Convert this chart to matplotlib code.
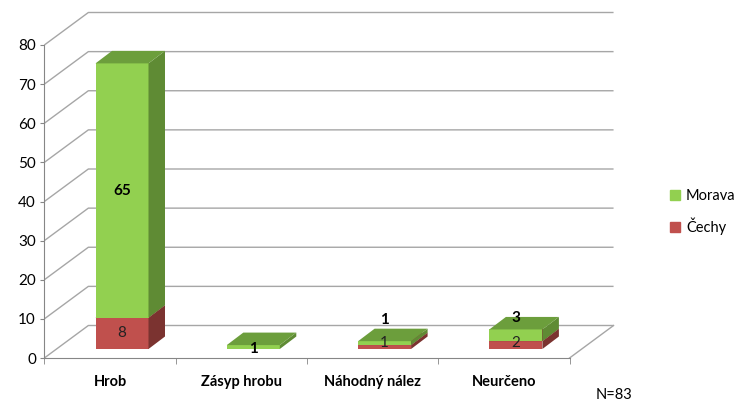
import matplotlib.pyplot as plt
from matplotlib.patches import Polygon, Patch

# Data
categories = ['Hrob', 'Zásyp hrobu', 'Náhodný nález', 'Neurčeno']
cechy = [8, 0, 1, 2]
morava = [65, 1, 1, 3]
y_ticks = list(range(0, 81, 10))
n_text = 'N=83'

plt.rcParams['font.family'] = ['Lato', 'DejaVu Sans']

fig = plt.figure(figsize=(7.39, 4.05), dpi=100)
ax = fig.add_axes([0, 0, 1, 1])

# pixel -> data unit conversion
px_x = 1 / 131.3
px_y = 1 / 3.9125
ax.set_xlim(-110 * px_x, (739 - 110) * px_x)
ax.set_ylim(-(405 - 358) * px_y, 358 * px_y)

# 3D look parameters
wall_dx, wall_dy = 44 * px_x, 32.5 * px_y
off_dx, off_dy = 12 * px_x, 9 * px_y
ddx, ddy = 16.5 * px_x, 12.5 * px_y
w = 53 * px_x

grid_c = '#a6a6a6'
for v in y_ticks:
    ax.plot([-0.5, -0.5 + wall_dx, 3.5 + wall_dx], [v, v + wall_dy, v + wall_dy],
            color=grid_c, lw=1, zorder=1, solid_capstyle='butt')
ax.plot([3.5, 3.5 + wall_dx], [0, wall_dy], color=grid_c, lw=1, zorder=1)

colors = {'Morava': ('#92d050', '#5f8b34', '#6c9e3c'),
          'Čechy': ('#c0504d', '#7b3330', '#8c3a37')}


def segment(xc, bottom, h, cols):
    front, side_c, top_c = cols
    x0 = xc + off_dx - w / 2
    x1 = x0 + w
    y0 = bottom + off_dy
    y1 = y0 + h
    ax.bar(xc + off_dx, h, width=w, bottom=y0, color=front, lw=0, zorder=3)
    ax.add_patch(Polygon([(x1, y0), (x1 + ddx, y0 + ddy), (x1 + ddx, y1 + ddy), (x1, y1)],
                         closed=True, color=side_c, lw=0, zorder=3))
    ax.add_patch(Polygon([(x0, y1), (x1, y1), (x1 + ddx, y1 + ddy), (x0 + ddx, y1 + ddy)],
                         closed=True, color=top_c, lw=0, zorder=3))


# label nudges (value units) to mimic Excel placement
cechy_shift = [0, 0, 1.0, 0.5]
morava_shift = [0, -0.5, 5.9, 4.5]

for i in range(len(categories)):
    if cechy[i] > 0:
        segment(i, 0, cechy[i], colors['Čechy'])
        ax.text(i + off_dx, off_dy + cechy[i] / 2 + cechy_shift[i], str(cechy[i]),
                ha='center', va='center', fontsize=11, color='#222222', zorder=5)
    if morava[i] > 0:
        segment(i, cechy[i], morava[i], colors['Morava'])
        ax.text(i + off_dx, off_dy + cechy[i] + morava[i] / 2 + morava_shift[i], str(morava[i]),
                ha='center', va='center', fontsize=11, fontweight='bold', color='black', zorder=5)

# axes
for s in ['top', 'right']:
    ax.spines[s].set_visible(False)
ax.spines['left'].set_position(('data', -0.5))
ax.spines['left'].set_bounds(0, 80)
ax.spines['bottom'].set_position(('data', 0))
ax.spines['bottom'].set_bounds(-0.5, 3.5)
for s in ['left', 'bottom']:
    ax.spines[s].set_color('#868686')
    ax.spines[s].set_zorder(2)

ax.set_yticks(y_ticks)
ax.set_yticklabels([str(v) for v in y_ticks])
ax.tick_params(axis='y', length=3, pad=3, color='#868686', labelsize=11)
ax.set_xticks(range(len(categories)))
ax.set_xticklabels(categories, fontweight='bold')
ax.set_xticks([-0.5, 0.5, 1.5, 2.5, 3.5], minor=True)
ax.tick_params(axis='x', which='major', length=0, pad=12, labelsize=10.5)
ax.tick_params(axis='x', which='minor', length=4, color='#868686')
ax.patch.set_visible(False)

legend_handles = [Patch(color=colors['Morava'][0], label='Morava'),
                  Patch(color=colors['Čechy'][0], label='Čechy')]
fig.legend(handles=legend_handles, loc='upper left', bbox_to_anchor=(670 / 739, 1 - 189 / 405),
           frameon=False, fontsize=10.5, handlelength=0.7, handleheight=0.7,
           handletextpad=0.4, labelspacing=1.0, borderpad=0, borderaxespad=0)

fig.text(596 / 739, 1 - 395 / 405, n_text, ha='left', va='center', fontsize=10.5)

fig.savefig('out.png', dpi=100)
